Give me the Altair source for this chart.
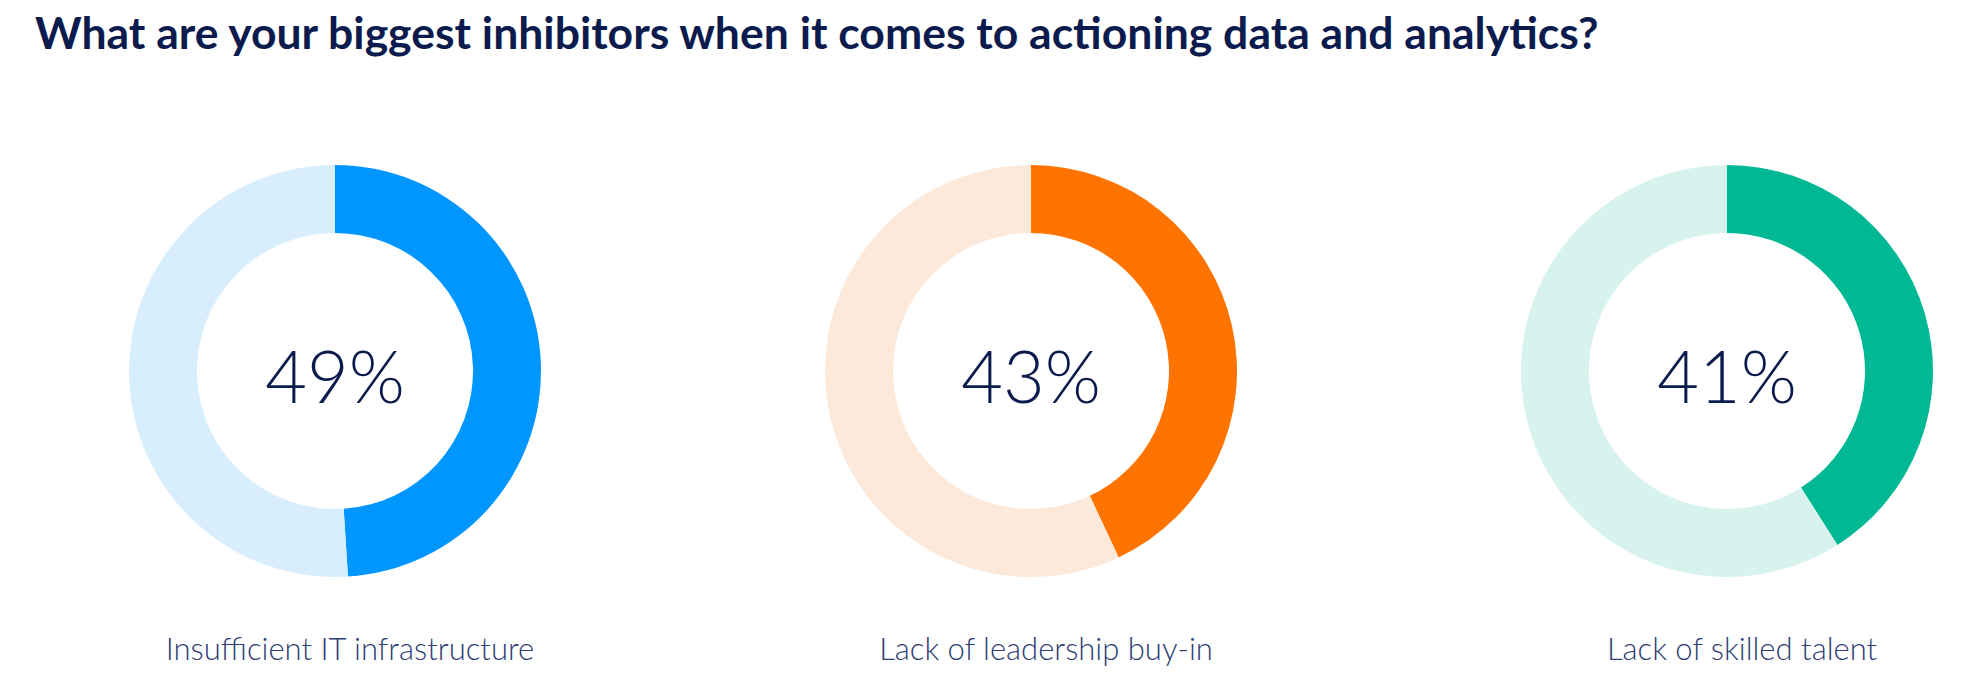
import altair as alt
import pandas as pd
import math

categories = ["Insufficient IT infrastructure", "Lack of leadership buy-in", "Lack of skilled talent"]
values = [49, 43, 41]
main_colors = ["#0096FF", "#FF7300", "#00B894"]
light_colors = ["#D9EEFD", "#FDE9DA", "#D8F3EE"]
title_text = "What are your biggest inhibitors when it comes to actioning data and analytics?"

rows = []
for i, (c, v) in enumerate(zip(categories, values)):
    rows.append({"cat": c, "order": 0, "val": v, "color": main_colors[i]})
    rows.append({"cat": c, "order": 1, "val": 100 - v, "color": light_colors[i]})
arcs = pd.DataFrame(rows)
labels = pd.DataFrame({"cat": categories, "val": values,
                       "pct": [f"{v}%" for v in values]})

xscale = alt.Scale(type="point", domain=categories, range=[335, 1727], padding=0)
X = alt.X("cat:N", scale=xscale, axis=None)

arc = alt.Chart(arcs).transform_window(
    cum="sum(val)", groupby=["cat"], sort=[alt.SortField("order")]
).transform_calculate(
    start="datum.cum - datum.val"
).mark_arc(outerRadius=206, innerRadius=138).encode(
    x=X,
    y=alt.value(296),
    theta=alt.Theta("start:Q", scale=alt.Scale(domain=[0, 100], range=[0, 2 * math.pi])),
    theta2="cum:Q",
    color=alt.Color("color:N", scale=None),
)

pct = alt.Chart(labels).mark_text(
    font="Lato", fontWeight=300, fontSize=72, color="#0C1B4D",
    baseline="alphabetic", align="center"
).encode(x=X, y=alt.value(328), text="pct:N")

lab = alt.Chart(labels).mark_text(
    font="Lato", fontWeight=300, fontSize=31, color="#2E3D74",
    baseline="alphabetic", align="center", dx=15
).encode(x=X, y=alt.value(585), text="cat:N")

chart = alt.layer(arc, pct, lab).properties(
    width=1968, height=624,
    background="white",
    autosize=alt.AutoSizeParams(type="none"),
    padding={"top": 75, "left": 0, "right": 0, "bottom": 0},
    title=alt.TitleParams(
        text=title_text, anchor="start", frame="group", dx=35, dy=45, offset=27,
        font="Lato", fontWeight="bold", fontSize=44.5, color="#0C1B4D",
        baseline="alphabetic"
    ),
).configure_view(stroke="transparent", strokeWidth=0)

chart.save("out.html", embed_options={"renderer": "svg", "actions": False})
